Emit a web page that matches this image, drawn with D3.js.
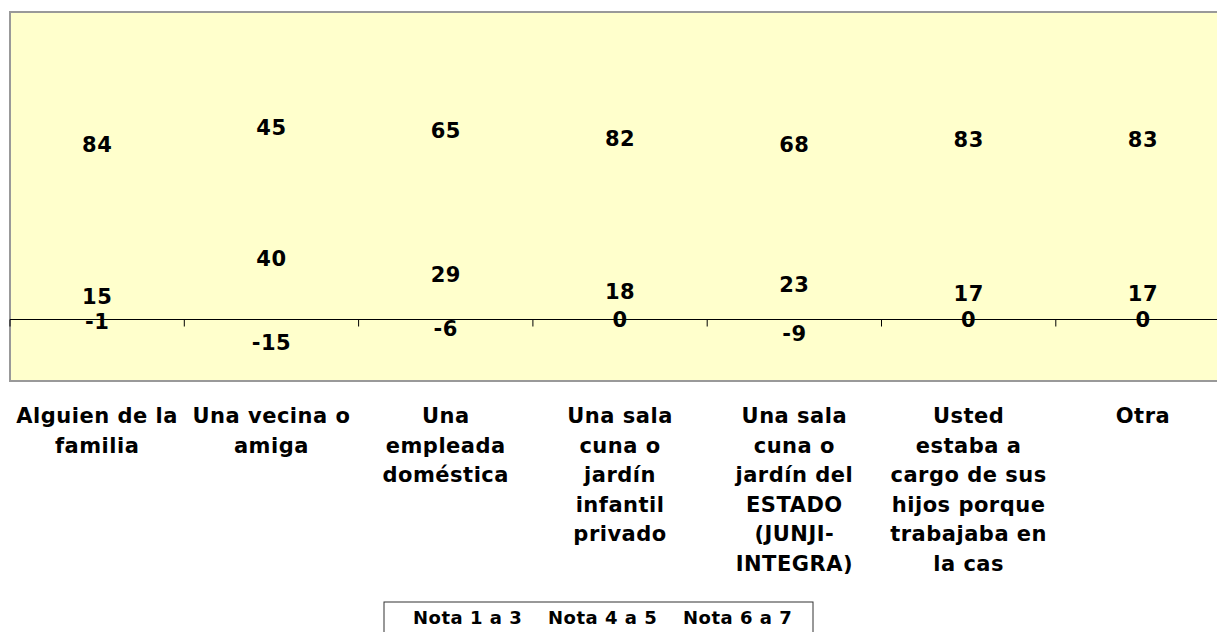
<!DOCTYPE html>
<html>
<head>
<meta charset="utf-8">
<script src="https://cdn.jsdelivr.net/npm/d3@7"></script>
<style>
  body { margin: 0; background: #fff; }
  text { font-family: "DejaVu Sans", Verdana, sans-serif; font-weight: bold; fill: #000; }
</style>
</head>
<body>
<div id="chart"></div>
<script>
// data
var categories = [
    'Alguien de la familia',
    'Una vecina o amiga',
    'Una empleada doméstica',
    'Una sala cuna o jardín infantil privado',
    'Una sala cuna o jardín del ESTADO (JUNJI-INTEGRA)',
    'Usted estaba a cargo de sus hijos porque trabajaba en la cas',
    'Otra'
];
var categoryLines = [
    ['Alguien de la', 'familia'],
    ['Una vecina o', 'amiga'],
    ['Una', 'empleada', 'doméstica'],
    ['Una sala', 'cuna o', 'jardín', 'infantil', 'privado'],
    ['Una sala', 'cuna o', 'jardín del', 'ESTADO', '(JUNJI-', 'INTEGRA)'],
    ['Usted', 'estaba a', 'cargo de sus', 'hijos porque', 'trabajaba en', 'la cas'],
    ['Otra']
];
var seriesNames = ['Nota 1 a 3', 'Nota 4 a 5', 'Nota 6 a 7'];
var nota13 = [-1, -15, -6, 0, -9, 0, 0];
var nota45 = [15, 40, 29, 18, 23, 17, 17];
var nota67 = [84, 45, 65, 82, 68, 83, 83];
var yDomain = [-20, 100];

var width = 1217,
    height = 632,
    plot = {left: 10, top: 12, bandWidth: 174.3, bottom: 381},
    svg, x, y, rows, stacked;

rows = categories.map(function(c, i){
    return {cat: c, 'Nota 1 a 3': nota13[i], 'Nota 4 a 5': nota45[i], 'Nota 6 a 7': nota67[i]};
});

stacked = d3.stack()
    .keys(seriesNames)
    .offset(d3.stackOffsetDiverging)(rows);

x = d3.scaleBand()
    .domain(categories)
    .range([plot.left, plot.left + plot.bandWidth * categories.length]);

y = d3.scaleLinear()
    .domain(yDomain)
    .range([plot.bottom, plot.top]);

svg = d3.select('#chart')
    .append('svg')
    .attr('width', width)
    .attr('height', height);

// plot area
svg.append('rect')
    .attr('x', x.range()[0])
    .attr('y', y(yDomain[1]))
    .attr('width', x.range()[1] - x.range()[0])
    .attr('height', y(yDomain[0]) - y(yDomain[1]))
    .attr('fill', '#ffffcc')
    .attr('stroke', '#999')
    .attr('stroke-width', 2);

// bars have no visible fill in the original
var layer = svg.append('g')
    .selectAll('g')
    .data(stacked)
    .enter()
    .append('g');

layer.selectAll('rect')
    .data(function(d){ return d; })
    .enter()
    .append('rect')
    .attr('x', function(d){ return x(d.data.cat) + x.bandwidth() * 0.25; })
    .attr('width', x.bandwidth() * 0.5)
    .attr('y', function(d){ return y(Math.max(d[0], d[1])); })
    .attr('height', function(d){ return Math.abs(y(d[0]) - y(d[1])); })
    .attr('fill', 'none');

// category axis at zero
var axis = svg.append('g')
    .attr('transform', 'translate(0,' + y(0) + ')');

axis.append('line')
    .attr('x1', x.range()[0])
    .attr('x2', x.range()[1])
    .style('stroke', '#000')
    .style('stroke-width', 1.2);

axis.selectAll('.tick')
    .data(categories)
    .enter()
    .append('line')
    .attr('x1', function(d){ return x(d); })
    .attr('x2', function(d){ return x(d); })
    .attr('y1', 0)
    .attr('y2', 7)
    .style('stroke', '#000')
    .style('stroke-width', 1);

// value labels
layer.selectAll('text')
    .data(function(d){ return d; })
    .enter()
    .append('text')
    .text(function(d){ return d[1] - d[0] === 0 ? 0 : (d[0] < 0 ? d[0] : d[1] - d[0]); })
    .attr('x', function(d){ return x(d.data.cat) + x.bandwidth() / 2; })
    .attr('y', function(d){ return y((d[0] + d[1]) / 2); })
    .attr('dy', '0.36em')
    .attr('font-size', '21px')
    .style('letter-spacing', '0.5px')
    .style('text-anchor', 'middle');

// category labels
svg.append('g')
    .selectAll('text')
    .data(categories)
    .enter()
    .append('text')
    .attr('x', function(d){ return x(d) + x.bandwidth() / 2; })
    .attr('y', 423)
    .attr('font-size', '21px')
    .style('letter-spacing', '0.5px')
    .style('text-anchor', 'middle')
    .each(function(d, i){
        var t = d3.select(this);
        categoryLines[i].forEach(function(line, j){
            t.append('tspan')
                .attr('x', x(d) + x.bandwidth() / 2)
                .attr('dy', j === 0 ? 0 : 29.5)
                .text(line);
        });
    });

// legend
var legend = svg.append('g');

legend.append('rect')
    .attr('x', 384)
    .attr('y', 602)
    .attr('width', 429)
    .attr('height', 40)
    .attr('fill', '#fff')
    .attr('stroke', '#333')
    .attr('stroke-width', 1);

legend.selectAll('text')
    .data(seriesNames)
    .enter()
    .append('text')
    .text(function(d){ return d; })
    .attr('x', function(d, i){ return 413 + i * 135; })
    .attr('y', 624)
    .attr('font-size', '18px')
    .style('letter-spacing', '0.5px');
</script>
</body>
</html>
